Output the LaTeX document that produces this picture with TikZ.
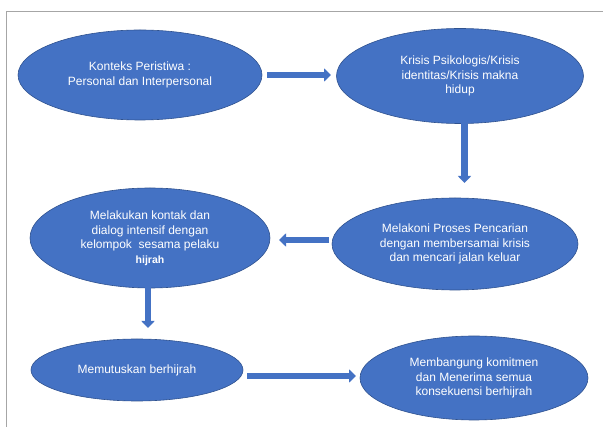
\documentclass[tikz,border=0pt]{standalone}
\usepackage{fontspec}
\setmainfont{Liberation Sans}
\usetikzlibrary{shapes.geometric,arrows.meta}
\definecolor{ofblue}{HTML}{4472C4}
\definecolor{ofedge}{HTML}{2F528F}
\definecolor{framegray}{HTML}{A6A6A6}
\begin{document}
\begin{tikzpicture}[x=1pt,y=-1pt,
  bubble/.style={ellipse, fill=ofblue, draw=ofedge, line width=0.6pt, inner sep=0pt,
    text=white, align=center, font=\fontsize{12}{14.5}\selectfont},
  blockarrow/.style={draw=ofblue, line width=6.5pt,
    -{Triangle[width=13pt,length=7pt]}}]
\useasboundingbox (0,0) rectangle (603,427);
\draw[framegray, line width=0.8pt] (6,427) -- (6,11) -- (603,11);

\node[bubble, minimum width=244pt, minimum height=90pt] (e1) at (140,75)
  {Konteks Peristiwa :\\Personal dan Interpersonal};
\node[bubble, minimum width=247pt, minimum height=95pt] (e2) at (460,76)
  {Krisis Psikologis/Krisis\\identitas/Krisis makna\\hidup};
\node[bubble, minimum width=240pt, minimum height=100pt] (e3) at (150,238)
  {Melakukan kontak dan\\dialog intensif dengan\\kelompok\ \ sesama pelaku\\{\fontsize{10.5}{12}\selectfont\bfseries hijrah}};
\node[bubble, minimum width=246pt, minimum height=92pt] (e4) at (455,244)
  {Melakoni Proses Pencarian\\dengan membersamai krisis\\dan mencari jalan keluar};
\node[bubble, minimum width=212pt, minimum height=62pt] (e5) at (137,370)
  {Memutuskan berhijrah};
\node[bubble, minimum width=228pt, minimum height=84pt] (e6) at (474,378)
  {Membangung komitmen\\dan Menerima semua\\konsekuensi berhijrah};

\coordinate (a1s) at (267,75);
\coordinate (a1e) at (331,75);
\draw[blockarrow] (e1.east |- a1s) ++(5,0) -- (a1e);
\coordinate (a2s) at (464.5,121);
\coordinate (a2e) at (464.5,183);
\draw[blockarrow] (a2s) -- (a2e);
\coordinate (a3s) at (329,240);
\coordinate (a3e) at (279,240);
\draw[blockarrow] (a3s) -- (a3e);
\coordinate (a4s) at (148,281);
\coordinate (a4e) at (148,328);
\draw[blockarrow] (a4s) -- (a4e);
\coordinate (a5s) at (247,376);
\coordinate (a5e) at (356,376);
\draw[blockarrow] (a5s) -- (a5e);
\end{tikzpicture}
\end{document}
